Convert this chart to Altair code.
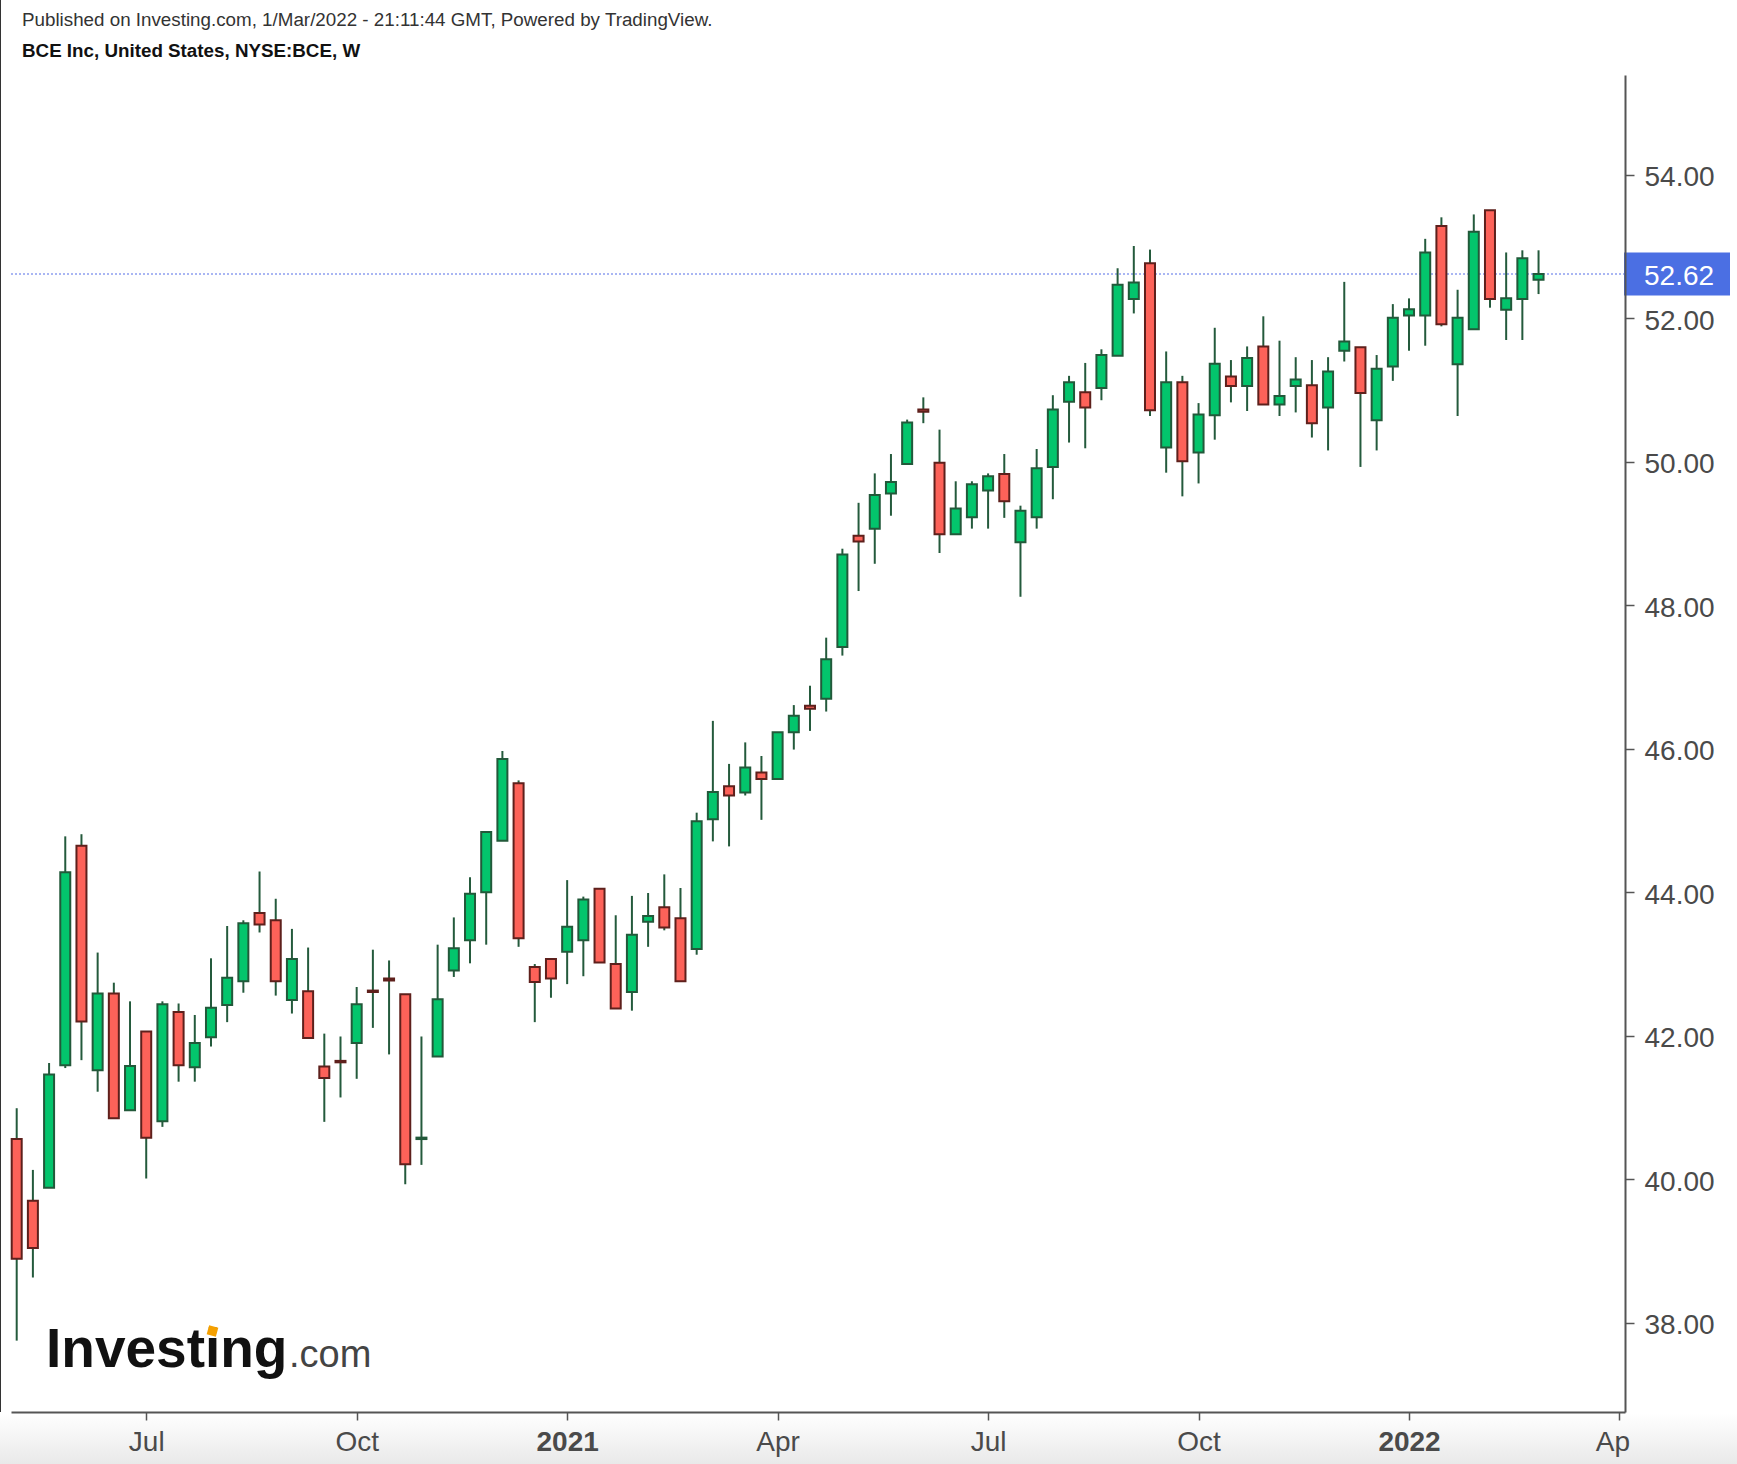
import altair as alt
import pandas as pd

# Weekly OHLC, BCE (NYSE), week starting 2020-05-11 .. 2022-02-28
opens = [40.56, 39.70, 39.88, 41.59, 44.65, 41.52, 42.59, 40.96, 42.06, 40.81,
         42.33, 41.56, 41.98, 42.43, 42.76, 43.71, 43.61, 42.50, 42.62, 41.57,
         41.65, 41.90, 42.63, 42.80, 42.58, 40.56, 41.71, 42.91, 43.33, 44.00,
         44.72, 45.52, 42.96, 43.07, 43.17, 43.33, 44.05, 43.00, 42.61, 43.59,
         43.79, 43.64, 43.21, 45.02, 45.48, 45.39, 45.67, 45.58, 46.23, 46.60,
         46.70, 47.42, 48.97, 49.07, 49.56, 49.97, 50.73, 49.99, 48.99, 49.23,
         49.60, 49.83, 48.88, 49.23, 49.93, 50.84, 50.97, 51.03, 51.48, 52.27,
         52.77, 50.20, 51.11, 50.13, 50.65, 51.19, 51.06, 51.61, 50.80, 51.06,
         51.07, 50.76, 51.55, 51.60, 50.58, 51.33, 52.04, 52.04, 53.29, 51.36,
         51.85, 53.51, 52.12, 52.27, 52.54]
highs = [40.99, 40.13, 41.62, 44.78, 44.81, 43.16, 42.74, 42.48, 42.06, 42.48,
         42.45, 42.29, 43.08, 43.53, 43.61, 44.29, 43.91, 43.49, 43.23, 42.03,
         41.99, 42.68, 43.20, 43.05, 42.58, 41.99, 43.27, 43.65, 44.21, 44.84,
         45.97, 45.56, 43.00, 43.07, 44.17, 43.94, 44.05, 43.68, 43.95, 43.99,
         44.25, 44.06, 45.11, 46.39, 45.79, 46.09, 45.90, 46.23, 46.61, 46.88,
         47.55, 48.79, 49.43, 49.84, 50.11, 50.59, 50.90, 50.45, 49.73, 49.73,
         49.84, 50.11, 49.39, 50.18, 50.93, 51.20, 51.38, 51.57, 52.70, 53.01,
         52.96, 51.54, 51.20, 50.82, 51.87, 51.42, 51.61, 52.03, 51.69, 51.46,
         51.42, 51.46, 52.51, 51.60, 51.49, 52.20, 52.28, 53.11, 53.41, 52.40,
         53.45, 53.51, 52.92, 52.95, 52.95]
lows = [37.75, 38.63, 39.88, 41.55, 41.66, 41.22, 40.85, 40.96, 40.01, 40.73,
        41.36, 41.36, 41.85, 42.19, 42.60, 43.44, 42.56, 42.31, 41.97, 40.80,
        41.14, 41.40, 42.11, 41.74, 39.93, 40.20, 41.71, 42.82, 43.01, 43.27,
        44.72, 43.24, 42.19, 42.53, 42.72, 42.83, 43.02, 42.38, 42.35, 43.24,
        43.47, 42.76, 43.13, 44.71, 44.64, 45.35, 45.01, 45.58, 45.99, 46.25,
        46.52, 47.30, 48.20, 48.58, 49.25, 49.97, 50.54, 48.73, 48.99, 49.07,
        49.07, 49.22, 48.12, 49.07, 49.48, 50.27, 50.19, 50.86, 51.48, 52.07,
        50.64, 49.85, 49.52, 49.70, 50.31, 50.83, 50.71, 50.80, 50.64, 50.69,
        50.34, 50.16, 51.40, 49.93, 50.16, 51.13, 51.55, 51.62, 51.89, 50.64,
        51.85, 52.15, 51.70, 51.70, 52.34]
closes = [38.89, 39.04, 41.46, 44.28, 42.20, 42.59, 40.85, 41.58, 40.58, 42.44,
          41.59, 41.90, 42.39, 42.81, 43.57, 43.55, 42.76, 43.07, 41.97, 41.41,
          41.63, 42.44, 42.61, 42.77, 40.21, 40.58, 42.51, 43.22, 43.98, 44.84,
          45.86, 43.36, 42.75, 42.80, 43.52, 43.90, 43.02, 42.38, 43.41, 43.67,
          43.51, 42.76, 44.99, 45.40, 45.35, 45.74, 45.58, 46.23, 46.46, 46.56,
          47.25, 48.71, 48.89, 49.54, 49.72, 50.55, 50.70, 48.99, 49.35, 49.69,
          49.80, 49.45, 49.32, 49.91, 50.73, 51.11, 50.76, 51.49, 52.47, 52.50,
          50.72, 51.11, 50.01, 50.66, 51.37, 51.06, 51.45, 50.80, 50.92, 51.15,
          50.54, 51.26, 51.68, 50.96, 51.30, 52.01, 52.13, 52.92, 51.92, 52.01,
          53.21, 52.27, 52.28, 52.84, 52.62]

y_ticks = [38, 40, 42, 44, 46, 48, 50, 52, 54]
header_1 = "Published on Investing.com, 1/Mar/2022 - 21:11:44 GMT, Powered by TradingView."
header_2 = "BCE Inc, United States, NYSE:BCE, W"

n = len(closes)
weeks = pd.date_range("2020-05-11", periods=n + 6, freq="W-MON")
df = pd.DataFrame({
    "idx": list(range(n)),
    "date": weeks[:n],
    "open": opens, "high": highs, "low": lows, "close": closes,
})

# axis ticks at first weekly bar of each quarter
tick_idx, tick_lab = [], []
for i, d in enumerate(weeks):
    if d.month in (1, 4, 7, 10) and d.day <= 7:
        tick_idx.append(i)
        if d.month == 1:
            tick_lab.append(str(d.year))
        else:
            tick_lab.append(d.strftime("%b"))
tick_lab[-1] = tick_lab[-1][:2]  # clipped at the right edge in the original
year_idx = [i for i, l in zip(tick_idx, tick_lab) if l.isdigit()]
last_tick = tick_idx[-1]

W, H = 1614, 1337
GREEN, GREEN_LINE = "#03c56c", "#22593a"
RED, RED_LINE = "#fd6259", "#5e201c"
WICK = "#245a3c"
AXIS_COL = "#555555"
LAB_COL = "#4a4a4a"
FONT = "Liberation Sans"

label_expr = "[" + ",".join("'%s'" % l for l in tick_lab) + "][indexof([" + \
    ",".join(str(i) for i in tick_idx) + "], datum.value)]"
year_test = "indexof([" + ",".join(str(i) for i in year_idx) + "], datum.value) >= 0"

x_scale = alt.Scale(domain=[-0.352, 99.34], nice=False, zero=False, padding=0)
y_scale = alt.Scale(domain=[36.755, 55.394], nice=False, zero=False, padding=0)

x_axis = alt.Axis(values=tick_idx, labelExpr=label_expr, title=None, grid=False,
                  domainColor=AXIS_COL, domainWidth=2, tickColor=AXIS_COL,
                  tickSize=8, tickWidth=1.5, labelFontSize=28, labelColor=LAB_COL,
                  labelFont=FONT, labelPadding=8, labelFlush=False,
                  labelOverlap=False,
                  labelOffset={"condition": {"test": "datum.value == %d" % last_tick,
                                             "value": -7}, "value": 0},
                  labelFontWeight={"condition": {"test": year_test, "value": "bold"},
                                   "value": "normal"},
                  zindex=1)
y_axis = alt.Axis(orient="right", values=y_ticks, format=".2f", title=None,
                  grid=False, domainColor=AXIS_COL, domainWidth=2,
                  tickColor=AXIS_COL, tickSize=9, tickWidth=1.5,
                  labelFontSize=28, labelColor=LAB_COL, labelFont=FONT,
                  labelPadding=10, labelOffset=3, zindex=1)

base = alt.Chart(df)
X = alt.X("idx:Q", scale=x_scale, axis=x_axis)

wicks = base.mark_rule(color=WICK, strokeWidth=2).encode(
    x=X,
    y=alt.Y("low:Q", scale=y_scale, axis=y_axis),
    y2="high:Q",
)
bodies = base.mark_bar(size=10, strokeWidth=2).encode(
    x=X,
    y=alt.Y("open:Q", scale=y_scale, axis=y_axis),
    y2="close:Q",
    fill=alt.condition("datum.close >= datum.open", alt.value(GREEN), alt.value(RED)),
    stroke=alt.condition("datum.close >= datum.open", alt.value(GREEN_LINE), alt.value(RED_LINE)),
)

last = closes[-1]
one = alt.Data(values=[{"v": 0}])

bottom_band = alt.Chart(one).mark_rect(
    color=alt.Gradient(gradient="linear",
                       stops=[alt.GradientStop(color="#ffffff", offset=0),
                              alt.GradientStop(color="#e9e9e9", offset=1)],
                       x1=0, x2=0, y1=0, y2=1)
).encode(x=alt.value(-11), x2=alt.value(W + 112), y=alt.value(H + 1), y2=alt.value(H + 52))

left_border = alt.Chart(one).mark_rule(color="#333333", strokeWidth=1).encode(
    x=alt.value(-10.5), y=alt.value(-75), y2=alt.value(H))

price_line = alt.Chart(one).mark_rule(color="#8d9ff0", strokeWidth=1.5,
                                      strokeDash=[2, 2]).encode(
    x=alt.value(0), x2=alt.value(W), y=alt.datum(last))

price_box = alt.Chart(one).mark_rect(color="#4b6fe3").encode(
    x=alt.value(W - 1), x2=alt.value(W + 105),
    y=alt.datum(last + 0.30), y2=alt.datum(last - 0.30))

price_txt = alt.Chart(alt.Data(values=[{"t": "%.2f" % last}])).mark_text(
    align="left", baseline="middle", fontSize=28, font=FONT, color="white", dy=3
).encode(x=alt.value(W + 19), y=alt.datum(last), text="t:N")

h1 = alt.Chart(alt.Data(values=[{"t": header_1}])).mark_text(
    align="left", baseline="middle", fontSize=18.8, font=FONT, color="#333333"
).encode(x=alt.value(11), y=alt.value(-55), text="t:N")
h2 = alt.Chart(alt.Data(values=[{"t": header_2}])).mark_text(
    align="left", baseline="middle", fontSize=18.8, font=FONT, fontWeight="bold",
    color="#111111"
).encode(x=alt.value(11), y=alt.value(-24), text="t:N")

logo1 = alt.Chart(alt.Data(values=[{"t": "Investing"}])).mark_text(
    align="left", baseline="alphabetic", fontSize=55, font=FONT, fontWeight="bold",
    color="#111111"
).encode(x=alt.value(35), y=alt.value(1292), text="t:N")
logo_dot = alt.Chart(one).mark_point(
    shape="square", filled=True, size=90, color="#f5a000", opacity=1, angle=15
).encode(x=alt.value(201.5), y=alt.value(1256))
logo2 = alt.Chart(alt.Data(values=[{"t": ".com"}])).mark_text(
    align="left", baseline="alphabetic", fontSize=38, font=FONT, color="#444444"
).encode(x=alt.value(278), y=alt.value(1292), text="t:N")

chart = alt.layer(
    bottom_band, left_border, price_line, wicks, bodies,
    price_box, price_txt, h1, h2, logo1, logo_dot, logo2
).properties(
    width=W, height=H,
    padding={"left": 11, "top": 75, "right": 112, "bottom": 52},
    autosize=alt.AutoSizeParams(type="none"),
    background="white",
).configure_view(stroke=None)

chart.save("out.html", embed_options={"renderer": "svg", "actions": False})
